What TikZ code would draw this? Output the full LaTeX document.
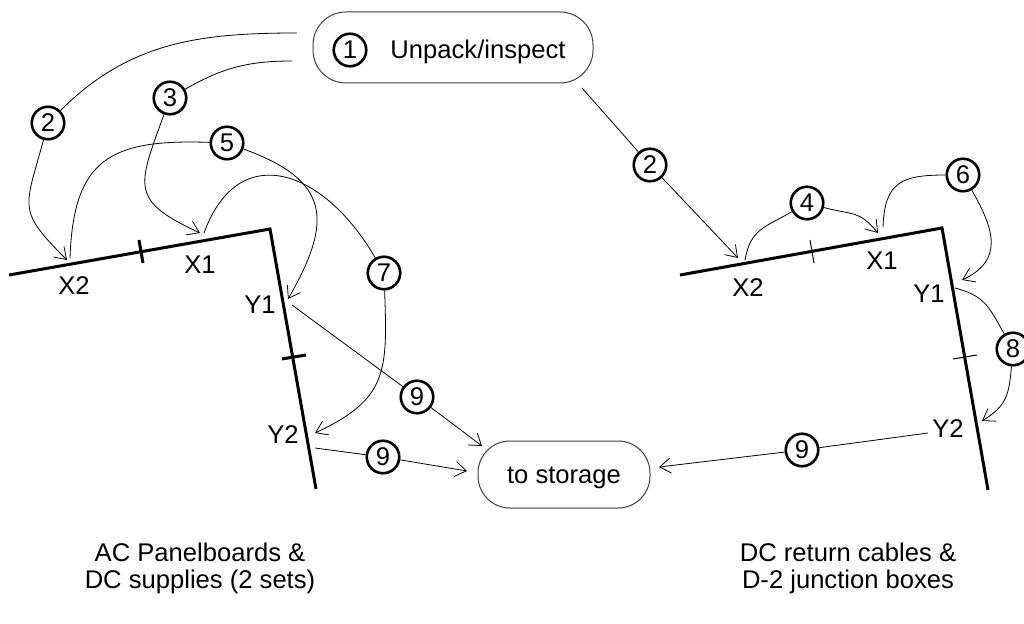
\documentclass[tikz,border=0pt]{standalone}
\usepackage{fontspec}
\setmainfont{Liberation Sans}
\usetikzlibrary{arrows.meta}
\begin{document}
\begin{tikzpicture}[x=1pt,y=1pt,
  txt/.style={font=\fontsize{25.6}{27}\selectfont, inner sep=0pt, anchor=base},
  numc/.style={circle, draw, line width=2.6pt, minimum size=32.5pt, inner sep=0pt, font=\fontsize{25.6}{27}\selectfont},
  pill/.style={draw=black!75, line width=1pt, rounded corners=33pt},
  conn/.style={line width=0.8pt},
  arr/.style={conn, -{Straight Barb[length=11pt,width=15pt]}},
  frame/.style={line width=3pt, line join=miter},
  thicktick/.style={line width=3pt},
  thintick/.style={line width=1pt},
  caption/.style={font=\fontsize{25.6}{27}\selectfont, inner sep=0pt, align=center, anchor=base}
]
\useasboundingbox (0,0) rectangle (1024,-623);

% ---------- main nodes ----------
\node[pill, minimum width=280pt, minimum height=71pt] (unpack) at (453,-47.5) {};
\node[numc] (c1) at (350,-50) {1};
\node[txt] (tunpack) at (478,-59) {Unpack/inspect};

\node[pill, minimum width=172pt, minimum height=67pt, rounded corners=32pt] (storage) at (564,-474.5) {};
\node[txt] (tstorage) at (564,-483) {to storage};

% ---------- left frame ----------
\coordinate (L0) at (9,-275);
\coordinate (Lc) at (270,-229);
\coordinate (Lb) at (316,-489);
\draw[frame] (L0) -- (Lc) -- (Lb);
\coordinate (Lt1a) at (139,-240); \coordinate (Lt1b) at (143,-263);
\draw[thicktick] (Lt1a) -- (Lt1b);
\coordinate (Lt2a) at (282,-359); \coordinate (Lt2b) at (306,-355);
\draw[thicktick] (Lt2a) -- (Lt2b);
\node[txt] (X2L) at (74,-294) {X2};
\node[txt] (X1L) at (200,-273) {X1};
\node[txt] (Y1L) at (260,-313) {Y1};
\node[txt] (Y2L) at (283,-443) {Y2};

% ---------- right frame ----------
\coordinate (R0) at (680,-275);
\coordinate (Rc) at (942,-228);
\coordinate (Rb) at (988,-490);
\draw[frame] (R0) -- (Rc) -- (Rb);
\coordinate (Rt1a) at (810,-240); \coordinate (Rt1b) at (814,-263);
\draw[thintick] (Rt1a) -- (Rt1b);
\coordinate (Rt2a) at (953,-359); \coordinate (Rt2b) at (977,-355);
\draw[thintick] (Rt2a) -- (Rt2b);
\node[txt] (X2R) at (748,-296) {X2};
\node[txt] (X1R) at (882,-269) {X1};
\node[txt] (Y1R) at (929,-302) {Y1};
\node[txt] (Y2R) at (948,-437) {Y2};

% ---------- step circles ----------
\node[numc] (c2L) at (48,-123) {2};
\node[numc] (c3) at (170,-98) {3};
\node[numc] (c5) at (227,-143) {5};
\node[numc] (c7) at (384,-273) {7};
\node[numc] (c9a) at (417,-397) {9};
\node[numc] (c9b) at (383,-457) {9};
\node[numc] (c2R) at (650,-165) {2};
\node[numc] (c4) at (807,-203) {4};
\node[numc] (c6) at (963,-175) {6};
\node[numc] (c8) at (1013,-349) {8};
\node[numc] (c9R) at (802,-450) {9};

% ---------- connector end points ----------
\coordinate (a0) at (297,-33);
\coordinate (b0) at (292,-61);
\coordinate (tX2L) at (67,-260);
\coordinate (tX1L) at (200,-233);
\coordinate (fX2L) at (70,-258);
\coordinate (fX1L) at (204,-233);
\coordinate (tY1L) at (288,-299);
\coordinate (tY2L) at (315,-433);
\coordinate (fY1L) at (292,-305);
\coordinate (fY2L) at (315,-448);
\coordinate (tS1) at (482,-446);
\coordinate (tS2) at (467,-471);
\coordinate (g0) at (582,-88);
\coordinate (tX2R) at (738,-258);
\coordinate (fX2R) at (745,-260);
\coordinate (tX1R) at (878,-233);
\coordinate (fX1R) at (883,-227);
\coordinate (tY1R) at (962,-280);
\coordinate (fY1R) at (955,-288);
\coordinate (tY2R) at (982,-421);
\coordinate (k0) at (928,-433);
\coordinate (tS3) at (659,-467);

% ---------- left connectors ----------
\draw[conn] (a0) to[out=180,in=45] (c2L);
\draw[arr] (c2L) to[out=-105,in=135,looseness=1.5] (tX2L);
\draw[conn] (b0) to[out=180,in=30] (c3);
\draw[arr] (c3) to[out=-110,in=155,looseness=1.6] (tX1L);
\draw[conn] (fX2L) to[out=88,in=178,looseness=1.4] (c5);
\draw[arr] (c5) to[out=-20,in=60,looseness=1.5] (tY1L);
\draw[conn] (fX1L) to[out=70,in=120,looseness=1.5] (c7);
\draw[arr] (c7) to[out=-88,in=25,looseness=1.3] (tY2L);
\draw[conn] (fY1L) -- (c9a);
\draw[arr] (c9a) -- (tS1);
\draw[conn] (fY2L) -- (c9b);
\draw[arr] (c9b) -- (tS2);

% ---------- right connectors ----------
\draw[conn] (g0) -- (c2R);
\draw[arr] (c2R) -- (tX2R);
\draw[conn] (fX2R) to[out=80,in=-150,looseness=1.2] (c4);
\draw[arr] (c4) to[out=-15,in=130,looseness=1.3] (tX1R);
\draw[conn] (fX1R) to[out=88,in=180,looseness=1.4] (c6);
\draw[arr] (c6) to[out=-60,in=25,looseness=1.3] (tY1R);
\draw[conn] (fY1R) to[out=-15,in=120,looseness=1.2] (c8);
\draw[arr] (c8) to[out=-95,in=32,looseness=1.2] (tY2R);
\draw[conn] (k0) -- (c9R);
\draw[arr] (c9R) -- (tS3);

% ---------- captions ----------
\node[caption] (capL) at (200,-588) {AC Panelboards \&\\DC supplies (2 sets)};
\node[caption] (capR) at (848,-588) {DC return cables \&\\D-2 junction boxes};
\end{tikzpicture}
\end{document}
